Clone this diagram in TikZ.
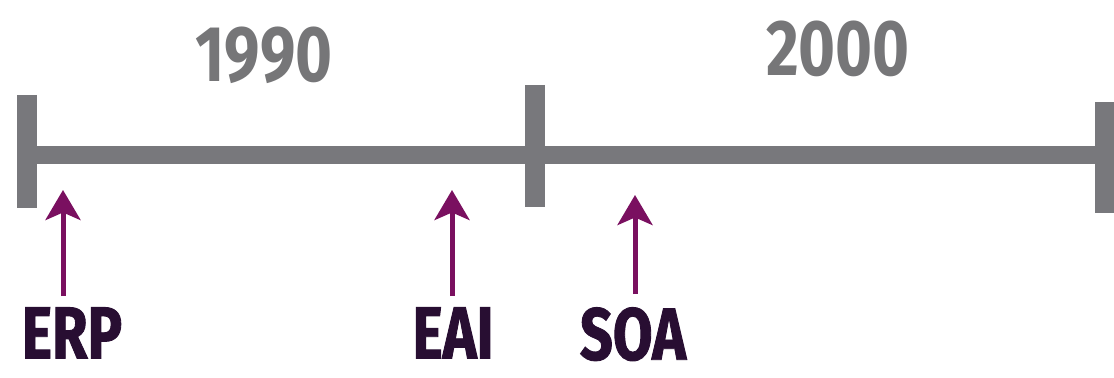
\documentclass[tikz,border=0pt]{standalone}
\usepackage{fontspec}
\newfontfamily\tlfont{Fira Sans}[FakeStretch=0.8]
\newfontfamily\erafont{Fira Sans}[FakeStretch=0.78,FakeBold=1.2]
\usetikzlibrary{arrows.meta}
\definecolor{axisgray}{RGB}{120,120,124}
\definecolor{yeargray}{RGB}{118,118,120}
\definecolor{plum}{RGB}{122,16,96}
\definecolor{darkplum}{RGB}{40,14,50}
\tikzset{
  bar/.style={line width=0.36cm,color=axisgray},
  tickmark/.style={line width=0.4cm,color=axisgray},
  year/.style={font=\tlfont\bfseries\fontsize{45}{50}\selectfont,
    color=yeargray,inner sep=0pt},
  era/.style={font=\erafont\bfseries\fontsize{42}{46}\selectfont,
    color=darkplum,inner sep=0pt,anchor=north},
  marker/.style={-{Stealth[length=0.6cm,width=0.7cm,inset=0.15cm]},
    line width=0.1cm,color=plum},
}

\begin{document}
\begin{tikzpicture}[x=0.02cm,y=-0.02cm]
\useasboundingbox (0,0) rectangle (1114,378);
% time axis
\coordinate (start) at (27,155);
\coordinate (end) at (1105,155);
\draw[bar] (start) -- (end);
\foreach \x/\t/\b in {27/95/208,535/85/207,1105/102/213}{
  \draw[tickmark] (\x,\t) -- (\x,\b);}
\node[year] (y1990) at (264,55) {1990};
\node[year] (y2000) at (838,49) {2000};
% technologies
\node[era] (erp) at (72,307) {ERP};
\node[era] (eai) at (453,307) {EAI};
\node[era] (soa) at (633,307) {SOA};
\foreach \n/\x/\ty/\by in {erp/63/190/296,eai/452/190/296,soa/635/195/294}{
  \coordinate (\n tip) at (\x,\ty);
  \coordinate (\n tail) at (\x,\by);
  \draw[marker] (\n tail) -- (\n tip);}
\end{tikzpicture}
\end{document}
